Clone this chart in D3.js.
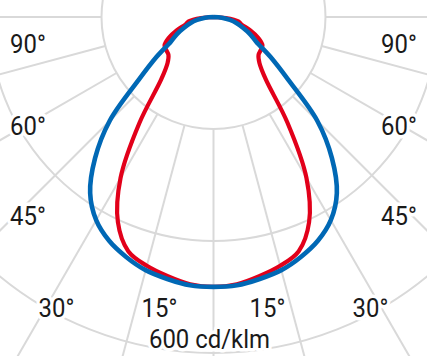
<!DOCTYPE html>
<html><head><meta charset="utf-8">
<script src="https://cdn.jsdelivr.net/npm/d3@7"></script>
<style>html,body{margin:0;padding:0;background:#fff;} svg{display:block}</style>
</head><body><svg id="c" width="427" height="356"></svg>
<script>
// ---- data (cd/klm at gamma angles from nadir, symmetric planes) ----
const angles = [0,5,10,15,20,25,30,35,40,45,50,55,60,65,70,75,80,85,90];
const redValues  = [482,479,470,460,445,404,332,230,145,116,105,103,101,88,70,52,45,22,0];
const blueValues = [482,481,475,468,456,441,419,384,329,262,174,124,88,72,56,43,30,15,0];
const ringValues = [200,400,600];
const spokeAngles = d3.range(0,360,15);
const sideLabels = ["90°","60°","45°"];
const bottomLabels = ["30°","15°"];
const unitLabel = "600 cd/klm";

// ---- layout ----
const W = 427, H = 356;
const cx = 213.5, cy = 17;
const svg = d3.select("#c");
const r = d3.scaleLinear().domain([0,600]).range([0,336]);
const rad = d => d*Math.PI/180;

const g = svg.append("g").attr("transform",`translate(${cx},${cy})`);
const grid = g.append("g").attr("fill","none").attr("stroke","#d9d9d9").attr("stroke-width",2);
grid.selectAll("circle").data(ringValues).join("circle").attr("r",d=>r(d));
const spoke = d3.lineRadial().angle(d=>d[0]).radius(d=>d[1]);
grid.selectAll("path").data(spokeAngles).join("path")
  .attr("d",a=>spoke([[rad(a),r(ringValues[0])],[rad(a),r(1400)]]));

function curvePoints(vals){
  const pts = [];
  for (let i = angles.length-1; i>=0; i--) pts.push([Math.PI + rad(angles[i]), r(vals[i])]);
  for (let i = 1; i < angles.length; i++) pts.push([Math.PI - rad(angles[i]), r(vals[i])]);
  return pts;
}
const line = d3.lineRadial().angle(d=>d[0]).radius(d=>d[1]).curve(d3.curveCatmullRom.alpha(0.5));
g.append("path").attr("d",line(curvePoints(redValues))).attr("fill","none")
  .attr("stroke","#e2001a").attr("stroke-width",4.2).attr("stroke-linejoin","round");
g.append("path").attr("d",line(curvePoints(blueValues))).attr("fill","none")
  .attr("stroke","#0068b5").attr("stroke-width",4.6).attr("stroke-linejoin","round");

// ---- labels ----
const sx = 0.92;
function label(txt,x,y){
  svg.append("text").attr("transform",`translate(${x},${y}) scale(${sx},1)`)
    .attr("text-anchor","middle").attr("font-family","Roboto, sans-serif")
    .attr("font-size",26).attr("fill","#1a1a1a")
    .attr("stroke","#fff").attr("stroke-width",7).attr("stroke-linejoin","round")
    .attr("paint-order","stroke").text(txt);
}
const sideY = [53,135,225];
sideLabels.forEach((t,i)=>{ label(t,28,sideY[i]); label(t,W-28,sideY[i]); });
const bottomDx = [157,54];
bottomLabels.forEach((t,i)=>{ label(t,cx-bottomDx[i],317); label(t,cx+bottomDx[i],317); });
label(unitLabel,cx-4,348);
</script></body></html>
